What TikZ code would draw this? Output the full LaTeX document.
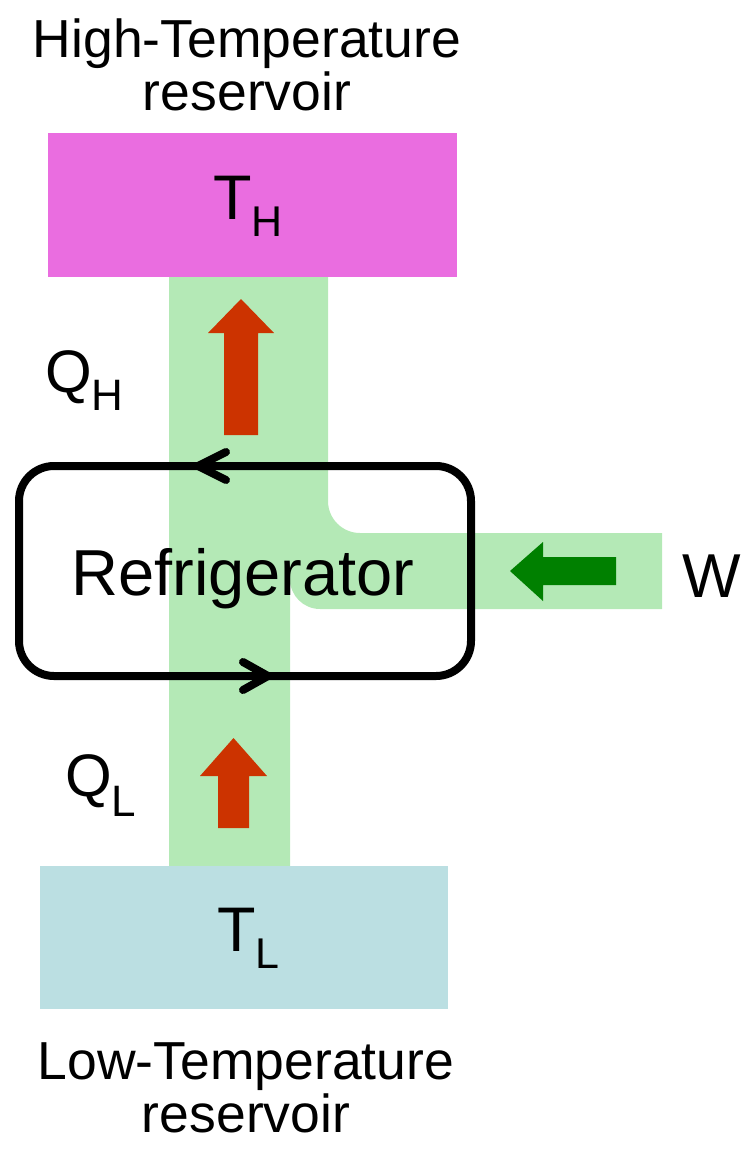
\documentclass[tikz,border=0pt]{standalone}
\usepackage{fontspec}
\setmainfont{Liberation Sans}
\definecolor{hotc}{HTML}{EA6DE0}
\definecolor{coldc}{HTML}{BBDFE2}
\definecolor{pipec}{HTML}{B4E9B6}
\definecolor{heatc}{HTML}{CC3300}
\definecolor{workc}{HTML}{008000}
\newcommand{\fsz}[1]{\fontsize{#1}{#1}\selectfont}
\tikzset{
  reservoir/.style={inner sep=0pt, minimum width=409pt, minimum height=144pt},
  lbl/.style={inner sep=0pt, outer sep=0pt},
  chevron/.style={line width=8pt, line cap=round, line join=round},
}
\begin{document}
\begin{tikzpicture}[x=1pt,y=-1pt]
\useasboundingbox (0,0) rectangle (740,1149);
% green heat pipe
\fill[pipec] (169,270) -- (328,270) -- (328,501)
  .. controls (328,518.7) and (342.3,533) .. (360,533)
  -- (662,533) -- (662,609) -- (320,609)
  .. controls (303.4,609) and (290,595.6) .. (290,579)
  -- (290,870) -- (169,870) -- cycle;
% reservoirs
\node[reservoir, fill=hotc] (hot) at (252.5,205) {};
\node[reservoir, fill=coldc, minimum width=408pt, minimum height=143pt] (cold) at (244,937.5) {};
% heat arrows
\fill[heatc] (241,299) -- (274,333) -- (258,333) -- (258,435) -- (224,435) -- (224,333) -- (208,333) -- cycle;
\fill[heatc] (233.5,738) -- (267,776) -- (249,776) -- (249,828) -- (218,828) -- (218,776) -- (200,776) -- cycle;
% work arrow
\fill[workc] (510,571) -- (543,542) -- (543,557) -- (616,557) -- (616,585) -- (543,585) -- (543,601) -- cycle;
% refrigerator cycle
\node[draw, line width=8pt, rounded corners=35pt, minimum width=452pt, minimum height=210pt, inner sep=0pt] (fridge) at (245,571) {};
\draw[chevron] (226,452) -- (198,466) -- (226,480);
\draw[chevron] (243,662) -- (268,676) -- (243,690);
% texts
\node[lbl, anchor=base] (ht1) at (247,57) {\fsz{53.5}High-Temperature};
\node[lbl, anchor=base] (ht2) at (247,110) {\fsz{53.5}reservoir};
\node[lbl, anchor=base] (lt1) at (246,1079) {\fsz{53.5}Low-Temperature};
\node[lbl, anchor=base] (lt2) at (246,1132) {\fsz{53.5}reservoir};
\node[lbl, anchor=base] (fr) at (243,595) {\fsz{65}Refrigerator};
\node[lbl, anchor=base west] (th) at (213.5,219) {\fsz{63}T\raisebox{-17pt}{\fsz{43}H}};
\node[lbl, anchor=base west] (tl) at (217.5,951) {\fsz{63}T\raisebox{-17pt}{\fsz{43}L}};
\node[lbl, anchor=base west] (qh) at (45,392) {\fsz{60}Q\raisebox{-18pt}{\fsz{44}H}};
\node[lbl, anchor=base west] (ql) at (65,796) {\fsz{60}Q\raisebox{-20pt}{\fsz{44}L}};
\node[lbl, anchor=base west] (w) at (682,597) {\fsz{62}W};
\end{tikzpicture}
\end{document}
